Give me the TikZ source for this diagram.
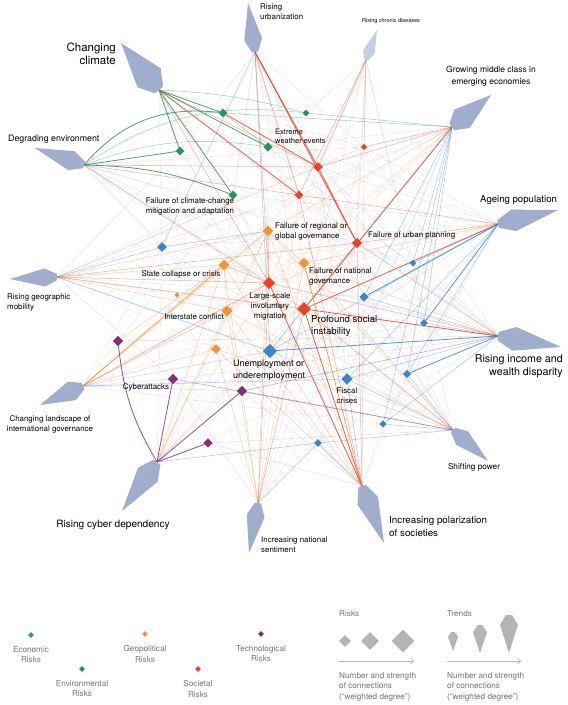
\documentclass[tikz,border=0pt]{standalone}
\usepackage{fontspec}
\setmainfont{TeX Gyre Heros}
\usetikzlibrary{shapes.geometric,positioning,calc,arrows.meta}

\definecolor{ecoC}{RGB}{58,134,199}
\definecolor{envC}{RGB}{40,148,90}
\definecolor{geoC}{RGB}{242,148,56}
\definecolor{socC}{RGB}{230,66,44}
\definecolor{techC}{RGB}{128,46,120}
\definecolor{trendC}{RGB}{160,173,204}
\definecolor{chronicC}{RGB}{196,206,228}
\definecolor{keyC}{RGB}{180,180,180}
\definecolor{keytext}{RGB}{115,115,115}

\pgfdeclarelayer{links}
\pgfsetlayers{links,main}

% trend kite: [colour] name, hub, tip, half width
\newcommand{\trendkite}[5][trendC]{%
  \coordinate (#2) at #3;
  \coordinate (#2 tip) at #4;
  \fill[#1] ($(#2)!0.35*#5!90:(#2 tip)$) -- ($(#2)!0.26!(#2 tip)!#5!90:(#2 tip)$) -- (#2 tip)
    -- ($(#2)!0.26!(#2 tip)!#5!-90:(#2 tip)$) -- ($(#2)!0.35*#5!-90:(#2 tip)$) -- cycle;}

\begin{document}
\begin{tikzpicture}[x=1pt, y=-1pt,
    risk/.style={diamond, inner sep=0pt, minimum size=#1},
    eco risk/.style={risk=#1, fill=ecoC},
    env risk/.style={risk=#1, fill=envC},
    geo risk/.style={risk=#1, fill=geoC},
    soc risk/.style={risk=#1, fill=socC},
    tech risk/.style={risk=#1, fill=techC},
    key risk/.style={risk=#1, fill=keyC},
    link/.style={line width=0.55pt},
    heavy/.style={draw opacity=0.85, line width=0.8pt},
    medium/.style={draw opacity=0.42},
    faint/.style={draw opacity=0.15},
    eco/.style={draw=ecoC}, env/.style={draw=envC}, geo/.style={draw=geoC},
    soc/.style={draw=socC}, tech/.style={draw=techC},
    lbl/.style={inner sep=0pt, align=left, font=\fontsize{7.9}{10}\selectfont},
    keylbl/.style={inner sep=0pt, align=center, text=keytext, font=\fontsize{8.2}{10.5}\selectfont},
    keyarrow/.style={draw=keyC, line width=0.6pt, -{Straight Barb[length=3pt]}}]
    \useasboundingbox (0,0) rectangle (568,705);

    % trends
    \trendkite{urban}{(255,52)}{(248,3)}{9pt}
    \trendkite[chronicC]{chronic}{(366,60)}{(377,30)}{6pt}
    \trendkite{midclass}{(452,127)}{(491,95)}{12pt}
    \trendkite{ageing}{(498,224)}{(558,210)}{11pt}
    \trendkite{income}{(498,336)}{(561,347)}{12pt}
    \trendkite{shift}{(453,430)}{(488,461)}{9pt}
    \trendkite{polar}{(362,486)}{(384,543)}{11pt}
    \trendkite{sentiment}{(258,503)}{(249,553)}{9pt}
    \trendkite{cyberdep}{(157,462)}{(122,511)}{12pt}
    \trendkite{landscape}{(83,386)}{(40,405)}{10pt}
    \trendkite{mobility}{(57,277)}{(10,279)}{9pt}
    \trendkite{degrade}{(84,165)}{(35,148)}{10pt}
    \trendkite{climate}{(159,90)}{(121,43)}{15pt}

    % economic risks
    \node[eco risk=10pt] (eco1) at (162,247) {};
    \node[eco risk=14.5pt] (unemp) at (270,351) {};
    \node[eco risk=9.5pt] (eco2) at (364,297) {};
    \node[eco risk=7pt] (eco3) at (413,263) {};
    \node[eco risk=8pt] (eco4) at (424,323) {};
    \node[eco risk=11.5pt] (fiscal) at (347,379) {};
    \node[eco risk=8.5pt] (eco5) at (407,374) {};
    \node[eco risk=7.5pt] (eco6) at (383,424) {};
    \node[eco risk=8pt] (eco7) at (318,443) {};
    % environmental risks
    \node[env risk=9pt] (env1) at (180,151) {};
    \node[env risk=9pt] (env2) at (223,113) {};
    \node[env risk=9.5pt] (weather) at (268,147) {};
    \node[env risk=9pt] (climfail) at (233,195) {};
    \node[env risk=7pt] (env3) at (306,113) {};
    % geopolitical risks
    \node[geo risk=11pt] (reggov) at (268,231) {};
    \node[geo risk=11pt] (natgov) at (304,263) {};
    \node[geo risk=11pt] (statecol) at (224,265) {};
    \node[geo risk=5.5pt] (geo1) at (177,295) {};
    \node[geo risk=11.5pt] (interstate) at (227,311) {};
    \node[geo risk=10pt] (geo2) at (216,349) {};
    % societal risks
    \node[soc risk=6.5pt] (soc1) at (364,147) {};
    \node[soc risk=10pt] (soc2) at (318,167) {};
    \node[soc risk=9pt] (soc3) at (299,195) {};
    \node[soc risk=10.5pt] (urbplan) at (357,243) {};
    \node[soc risk=12.5pt] (migration) at (269,283) {};
    \node[soc risk=14pt] (unrest) at (304,309) {};
    % technological risks
    \node[tech risk=10.5pt] (tech1) at (118,341) {};
    \node[tech risk=10.5pt] (cyberatk) at (173,379) {};
    \node[tech risk=10.5pt] (tech2) at (242,391) {};
    \node[tech risk=9.5pt] (tech3) at (208,443) {};

    \begin{pgfonlayer}{links}
    % faint web
    \path[link, soc, faint]
        (urban) edge (soc1) (urban) edge (unrest) (urban) edge (soc3)
        (chronic) edge (urbplan) (chronic) edge (unrest) (chronic) edge (migration)
        (midclass) edge (urbplan) (midclass) edge (migration) (midclass) edge (soc3)
        (ageing) edge (soc1) (ageing) edge (migration) (ageing) edge (soc2)
        (income) edge (soc2) (income) edge (soc3) (income) edge (soc1)
        (shift) edge (migration) (shift) edge (urbplan) (shift) edge (soc3)
        (polar) edge (soc2) (polar) edge (soc1)
        (sentiment) edge (urbplan) (sentiment) edge (soc3) (sentiment) edge (soc1)
        (cyberdep) edge (unrest) (cyberdep) edge (migration) (cyberdep) edge (urbplan)
        (landscape) edge (unrest) (landscape) edge (soc3) (landscape) edge (urbplan)
        (mobility) edge (soc2) (mobility) edge (soc3) (mobility) edge (soc1)
        (degrade) edge (urbplan) (degrade) edge (unrest) (degrade) edge (soc1)
        (climate) edge (unrest) (climate) edge (soc1) (climate) edge (urbplan)
        (env1) edge (migration) (statecol) edge (unrest) (interstate) edge (migration);
    \path[link, geo, faint]
        (climate) edge (reggov) (climate) edge (statecol)
        (degrade) edge (statecol) (degrade) edge (interstate)
        (urban) edge (natgov) (urban) edge (statecol) (urban) edge (reggov)
        (chronic) edge (natgov) (chronic) edge (reggov)
        (midclass) edge (natgov) (midclass) edge (statecol) (midclass) edge (interstate)
        (midclass) edge (geo2)
        (ageing) edge (reggov) (ageing) edge (geo1) (ageing) edge (statecol) (ageing) edge (interstate)
        (income) edge (interstate) (income) edge (geo2) (income) edge (statecol)
        (income) edge (reggov) (income) edge (geo1)
        (mobility) edge (geo1) (mobility) edge (natgov) (mobility) edge (geo2)
        (landscape) edge (geo1) (landscape) edge (natgov)
        (cyberdep) edge (natgov) (cyberdep) edge (geo2) (shift) edge (statecol)
        (shift) edge (geo1) (polar) edge (geo1) (sentiment) edge (geo1);
    \path[link, eco, faint]
        (climate) edge (eco1) (climate) edge (unemp) (climate) edge (eco3)
        (degrade) edge (eco1) (degrade) edge (eco3) (degrade) edge (eco2)
        (chronic) edge (eco3) (chronic) edge (eco4) (chronic) edge (fiscal)
        (urban) edge (eco2) (urban) edge (eco4) (urban) edge (eco5) (urban) edge (fiscal)
        (mobility) edge (fiscal) (mobility) edge (eco2) (mobility) edge (eco4)
        (landscape) edge (unemp) (landscape) edge (eco6) (landscape) edge (eco5)
        (landscape) edge (eco4) (landscape) edge (eco1)
        (cyberdep) edge (fiscal) (cyberdep) edge (unemp) (cyberdep) edge (eco1)
        (sentiment) edge (fiscal) (sentiment) edge (unemp) (sentiment) edge (eco2)
        (polar) edge (eco6) (polar) edge (eco5) (polar) edge (eco1) (polar) edge (eco2)
        (shift) edge (unemp) (shift) edge (eco2) (shift) edge (eco1) (shift) edge (eco3)
        (ageing) edge (eco6) (ageing) edge (eco7) (ageing) edge (eco1)
        (midclass) edge (fiscal) (midclass) edge (unemp) (midclass) edge (eco1)
        (midclass) edge (eco7) (income) edge (eco1) (income) edge (eco7) (income) edge (eco3);
    \path[link, env, faint]
        (midclass) edge (weather) (mobility) edge (climfail) (chronic) edge (env3)
        (ageing) edge (env2) (urban) edge (climfail) (ageing) edge (climfail)
        (mobility) edge (env1) (landscape) edge (climfail) (urban) edge (env1)
        (income) edge (weather) (polar) edge (climfail);
    \path[link, tech, faint]
        (income) edge (cyberatk) (landscape) edge (cyberatk) (polar) edge (tech2)
        (polar) edge (tech3) (ageing) edge (tech2) (shift) edge (tech3)
        (landscape) edge (tech2) (mobility) edge (cyberatk) (income) edge (tech1)
        (sentiment) edge (cyberatk);

    % medium ties
    \path[link, env, medium]
        (climate) edge[bend left=6] (env3) (degrade) edge[bend left=14] (weather)
        (degrade) edge[bend left=20] (env3) (midclass) edge (env3)
        (midclass) edge (env2) (env2) edge (weather);
    \path[link, soc, medium]
        (climate) edge (soc2) (urban) edge (migration) (urban) edge (soc3)
        (chronic) edge (soc2) (chronic) edge (soc3) (chronic) edge (soc1)
        (midclass) edge (soc1) (midclass) edge (soc2)
        (ageing) edge (urbplan) (ageing) edge (soc3)
        (income) edge (migration) (income) edge (urbplan)
        (shift) edge (unrest) (polar) edge (urbplan) (polar) edge (soc3)
        (sentiment) edge (migration) (sentiment) edge (unrest)
        (mobility) edge (migration) (mobility) edge (unrest) (mobility) edge (urbplan)
        (landscape) edge (migration)
        (degrade) edge (soc3) (degrade) edge (soc2) (degrade) edge (migration)
        (climate) edge (migration) (statecol) edge (migration) (reggov) edge (migration)
        (urbplan) edge (unrest);
    \path[link, geo, medium]
        (landscape) edge (interstate) (landscape) edge (reggov) (landscape) edge (geo2)
        (mobility) edge (statecol) (mobility) edge (reggov) (mobility) edge (interstate)
        (sentiment) edge (interstate) (sentiment) edge (geo2) (sentiment) edge (statecol)
        (sentiment) edge (reggov) (sentiment) edge (natgov)
        (polar) edge (interstate) (polar) edge (reggov) (polar) edge (statecol) (polar) edge (geo2)
        (shift) edge (natgov) (shift) edge (interstate) (shift) edge (reggov) (shift) edge (geo2)
        (cyberdep) edge (statecol) (cyberdep) edge (interstate) (cyberdep) edge (reggov)
        (income) edge (natgov) (ageing) edge (natgov) (midclass) edge (reggov)
        (reggov) edge (statecol) (reggov) edge (natgov) (statecol) edge (interstate)
        (tech1) edge (statecol);
    \path[link, eco, medium]
        (urban) edge (eco1) (urban) edge (unemp) (mobility) edge (unemp) (mobility) edge (eco1)
        (eco1) edge (reggov)
        (ageing) edge (unemp) (ageing) edge (fiscal) (ageing) edge (eco3) (ageing) edge (eco5)
        (midclass) edge (eco2) (midclass) edge (eco4) (midclass) edge (eco5)
        (midclass) edge (eco6) (midclass) edge (eco3)
        (income) edge (fiscal) (income) edge (eco2) (income) edge (eco4) (income) edge (eco6)
        (shift) edge (fiscal) (shift) edge (eco5) (shift) edge (eco6) (shift) edge (eco7)
        (polar) edge (fiscal) (polar) edge (eco7) (cyberdep) edge (eco7)
        (landscape) edge (fiscal) (unemp) edge (unrest) (sentiment) edge (eco7);
    \path[link, tech, medium]
        (cyberatk) edge (shift) (tech2) edge (shift) (income) edge (tech2);

    % heavy ties
    \path[link, env, heavy]
        (climate) edge (env2) (climate) edge (weather) (climate) edge (climfail)
        (climate) edge (env1) (degrade) edge (env1)
        (degrade) edge[bend left=10] (climfail) (degrade) edge[bend left=28] (env2);
    \path[link, soc, heavy]
        (climate) edge (soc3) (urban) edge (soc2) (urban) edge (urbplan)
        (env2) edge (soc2) (soc2) edge (urbplan) (midclass) edge (unrest)
        (ageing) edge (unrest) (income) edge (unrest) (polar) edge (unrest)
        (polar) edge (migration);
    \path[link, geo, heavy]
        (landscape) edge (statecol) (polar) edge (natgov);
    \path[link, eco, heavy]
        (income) edge (unemp) (income) edge (eco5) (ageing) edge (eco2) (ageing) edge (eco4);
    \path[link, tech, heavy]
        (cyberdep) edge[bend left=12] (tech1) (cyberdep) edge (cyberatk)
        (cyberdep) edge (tech2) (cyberdep) edge (tech3);
    \end{pgfonlayer}

    % trend labels
    \node[lbl, anchor=north west] (urban lbl) at (260,4) {Rising\\urbanization};
    \node[lbl, font=\fontsize{5.5}{6}\selectfont, anchor=north] (chronic lbl) at (391,18) {Rising chronic diseases};
    \node[lbl, align=center, font=\fontsize{8.5}{11.5}\selectfont, anchor=north] (midclass lbl) at (491,66) {Growing middle class in\\emerging economies};
    \node[lbl, font=\fontsize{9.6}{12}\selectfont, anchor=north west] (ageing lbl) at (480,195) {Ageing population};
    \node[lbl, align=right, font=\fontsize{10.7}{13.3}\selectfont, anchor=north east] (income lbl) at (563,354) {Rising income and\\wealth disparity};
    \node[lbl, font=\fontsize{8.2}{10}\selectfont, anchor=north] (shift lbl) at (474,463) {Shifting power};
    \node[lbl, font=\fontsize{9.8}{12.7}\selectfont, anchor=north west] (polar lbl) at (389,516) {Increasing polarization\\of societies};
    \node[lbl, anchor=north west] (sentiment lbl) at (261,537) {Increasing national\\sentiment};
    \node[lbl, font=\fontsize{10.1}{12}\selectfont, anchor=north] (cyberdep lbl) at (113,520) {Rising cyber dependency};
    \node[lbl, align=center, anchor=north] (landscape lbl) at (50,415) {Changing landscape of\\international governance};
    \node[lbl, anchor=north west] (mobility lbl) at (7,294) {Rising geographic\\mobility};
    \node[lbl, font=\fontsize{8.8}{11}\selectfont, anchor=north west] (degrade lbl) at (8,135) {Degrading environment};
    \node[lbl, align=right, font=\fontsize{11.5}{12.5}\selectfont, anchor=north east] (climate lbl) at (116,43) {Changing\\climate};

    % risk labels
    \node[lbl, font=\fontsize{7.5}{9.3}\selectfont, anchor=north west] (weather lbl) at (275,129) {Extreme\\weather events};
    \node[lbl, align=center, anchor=north] (climfail lbl) at (190,198) {Failure of climate-change\\mitigation and adaptation};
    \node[lbl, anchor=north west] (reggov lbl) at (275,223) {Failure of regional or\\global governance};
    \node[lbl, anchor=north west] (urbplan lbl) at (368,232) {Failure of urban planning};
    \node[lbl, anchor=north] (statecol lbl) at (181,270) {State collapse or crisis};
    \node[lbl, anchor=north west] (natgov lbl) at (309,268) {Failure of national\\governance};
    \node[lbl, align=center, anchor=north] (migration lbl) at (270,293) {Large-scale\\involuntary\\migration};
    \node[lbl, font=\fontsize{9.6}{12.5}\selectfont, anchor=north west] (unrest lbl) at (311,315) {Profound social\\instability};
    \node[lbl, anchor=north] (interstate lbl) at (194,314) {Interstate conflict};
    \node[lbl, font=\fontsize{9}{12}\selectfont, anchor=north west] (unemp lbl) at (233,360) {Unemployment or\\underemployment};
    \node[lbl, align=center, below=3pt of fiscal] (fiscal lbl) {Fiscal\\crises};
    \node[lbl, anchor=north] (cyberatk lbl) at (146,383) {Cyberattacks};

    % key: categories
    \node[eco risk=6pt] (key eco) at (31,635) {};
    \node[keylbl, below=8pt of key eco] (key eco lbl) {Economic\\Risks};
    \node[env risk=6pt] (key env) at (82,669) {};
    \node[keylbl, below=8pt of key env] (key env lbl) {Environmental\\Risks};
    \node[geo risk=6pt] (key geo) at (145,634) {};
    \node[keylbl, below=8pt of key geo] (key geo lbl) {Geopolitical\\Risks};
    \node[soc risk=6pt] (key soc) at (198,669) {};
    \node[keylbl, below=8pt of key soc] (key soc lbl) {Societal\\Risks};
    \node[tech risk=6pt] (key tech) at (261,634) {};
    \node[keylbl, below=8pt of key tech] (key tech lbl) {Technological\\Risks};

    % key: sizes
    \node[keylbl, anchor=north west] (risks head) at (339,610) {Risks};
    \node[key risk=12pt] (key r1) at (345,641) {};
    \node[key risk=18pt] (key r2) at (370,641) {};
    \node[key risk=23pt] (key r3) at (403,641) {};
    \coordinate (risks from) at (339,661);
    \coordinate (risks to) at (414,661);
    \draw[keyarrow] (risks from) -- (risks to);
    \node[keylbl, align=left, anchor=north west] (risks note) at (339,672) {Number and strength\\of connections\\(``weighted degree'')};

    \node[keylbl, anchor=north west] (trends head) at (447,610) {Trends};
    \trendkite[keyC]{key t1}{(453,632)}{(453,651)}{5pt}
    \trendkite[keyC]{key t2}{(480,625)}{(480,653)}{7pt}
    \trendkite[keyC]{key t3}{(509,615)}{(509,653)}{9pt}
    \coordinate (trends from) at (447,661);
    \coordinate (trends to) at (521,661);
    \draw[keyarrow] (trends from) -- (trends to);
    \node[keylbl, align=left, anchor=north west] (trends note) at (447,672) {Number and strength\\of connections\\(``weighted degree'')};
\end{tikzpicture}
\end{document}
